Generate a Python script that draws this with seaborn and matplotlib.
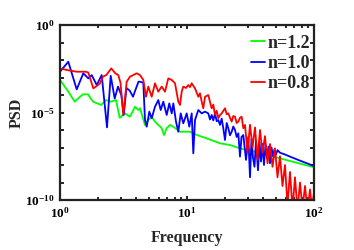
import numpy as np
import pandas as pd
import matplotlib
matplotlib.use("Agg")
import matplotlib.pyplot as plt
from matplotlib.ticker import LogLocator, FuncFormatter, NullFormatter, NullLocator
import seaborn as sns

# ---- data ----
# green: log10 frequency / log10 PSD
green_logf = [0.000, 0.060, 0.116, 0.150, 0.181, 0.220, 0.260, 0.325, 0.362, 0.402, 0.441,
              0.470, 0.512, 0.551, 0.591, 0.617, 0.630, 0.669, 0.695, 0.722, 0.748,
              0.774, 0.801, 0.819, 0.840, 0.866, 0.892, 0.945, 1.024, 1.079, 1.157,
              1.260, 1.339, 1.417, 1.575, 1.732, 1.890, 2.000]
green_logpsd = [-3.14, -3.75, -4.38, -4.15, -3.96, -3.96, -4.38, -4.57, -4.29, -4.38, -4.29,
                -5.30, -5.05, -5.24, -4.67, -4.86, -4.76, -5.71, -5.43, -5.24, -5.52,
                -5.71, -5.90, -6.29, -5.90, -5.71, -5.81, -6.10, -6.10, -6.29, -6.48,
                -6.76, -6.86, -7.05, -7.30, -7.62, -7.92, -8.13]

# blue / red: horizontal position read in pixels of the 354x250 reference (axis 1..100 spans 60..314)
blue_x = [60, 68.3, 76.7, 83.3, 88.3, 91.7, 96.7, 101.7, 107, 110.7, 114.7, 118, 121.3,
          123.7, 126.5, 129.7, 133, 135.5, 138.5, 140, 143.3, 145, 146.7, 149.3, 151.7,
          155, 158.3, 160.7, 163.3, 166.7, 169.3, 171.7, 173.3, 176, 178.3, 180.7, 183.3,
          186.7, 189.3, 191.7, 193.3, 195, 198.3, 201.7, 205, 208.3, 210, 211.7, 213.3,
          215, 216.7, 218.3, 220, 221.7, 223.3, 225, 226.7, 228.3, 230, 231.7, 233.3, 235,
          236.7, 238.3, 240, 241.5, 243.3, 246, 248.3, 250, 251.5, 253, 254.5, 256, 258,
          259.5, 261, 262.5, 264, 265.5, 267, 268.5, 270, 271.5, 273, 274.5, 276, 277.5,
          280, 285, 290, 300, 314]
blue_logpsd = [-2.67, -2.10, -3.68, -2.76, -3.05, -2.86, -3.43, -2.86, -5.85, -2.90, -4.20,
               -3.52, -4.00, -5.14, -3.60, -3.75, -4.10, -3.70, -3.24, -3.24, -3.30, -5.43,
               -5.81, -4.95, -5.33, -4.67, -4.29, -4.86, -4.38, -5.14, -4.48, -5.05, -4.48,
               -5.52, -6.10, -5.05, -5.62, -5.05, -5.81, -5.05, -7.33, -5.43, -4.86, -5.05,
               -4.95, -5.05, -5.40, -5.14, -5.45, -5.05, -5.50, -5.43, -5.71, -5.35, -5.90,
               -6.57, -5.60, -5.90, -6.30, -6.10, -5.80, -6.00, -6.40, -6.19, -7.52, -6.40,
               -6.29, -7.71, -6.40, -8.70, -6.50, -7.60, -8.10, -6.60, -8.30, -6.70, -7.80,
               -6.80, -8.00, -6.85, -7.60, -6.95, -7.90, -7.00, -7.50, -7.10, -7.40, -7.15,
               -7.30, -7.40, -7.52, -7.75, -8.06]

red_x = [60, 66.7, 76.7, 86, 88.3, 93.3, 98, 100, 103, 106.3, 111.3, 115.3, 118.3, 120.5,
         123.3, 126.7, 130, 133.3, 136.7, 140, 143.3, 146, 148.3, 151.7, 155, 158.3, 161.7,
         165, 168.3, 171.7, 175, 178.3, 180, 181.7, 183.3, 186, 188.3, 190, 191.7, 195,
         198.3, 200, 201.7, 203.3, 205, 208.3, 210, 211.7, 213.3, 215, 216.7, 218.3, 220,
         221.7, 225, 226.7, 228.3, 230, 231.7, 233.3, 235, 236.7, 238.3, 240, 241.7, 243.3,
         245, 247.5, 250, 252.5, 255, 257.5, 260, 262.5, 265, 267.5, 270, 272.5, 275,
         277.5, 280, 282.5, 285, 287.5, 290, 292.5, 295, 297.5, 300, 302.5, 305, 307.5,
         310, 312, 314]
red_logpsd = [-2.48, -2.57, -2.67, -2.67, -2.72, -3.62, -3.43, -3.33, -2.95, -2.86, -2.48,
              -2.76, -2.86, -3.30, -5.14, -3.24, -2.95, -2.86, -2.76, -2.86, -3.14, -4.10,
              -3.52, -4.10, -3.33, -3.81, -3.52, -3.81, -3.05, -3.14, -3.33, -4.38, -4.57,
              -3.81, -3.52, -3.60, -3.43, -3.55, -3.33, -3.62, -4.10, -3.90, -4.38, -4.76,
              -4.10, -4.00, -4.40, -4.76, -4.55, -5.14, -4.90, -5.33, -5.15, -5.05, -4.76,
              -5.10, -5.05, -5.30, -5.52, -5.20, -5.24, -5.60, -5.52, -5.30, -5.24, -5.90,
              -5.71, -7.30, -5.70, -7.00, -5.85, -7.70, -6.00, -7.30, -6.35, -7.90, -6.80,
              -8.10, -7.05, -8.70, -7.50, -9.20, -8.00, -10.3, -8.40, -10.5, -8.70, -10.6,
              -9.00, -10.5, -9.20, -10.6, -9.40, -10.5, -9.55]

labels = ["n=1.2", "n=1.0", "n=0.8"]
colors = ["#00ff00", "#0000ff", "#ff0000"]

# convert pixel positions to log10 frequency (1 decade = 127 px, f=1 at 60 px)
blue_logf = [(x - 60) / 127 for x in blue_x]
red_logf = [(x - 60) / 127 for x in red_x]

frames = []
for lab, lf, lp in zip(labels, [green_logf, blue_logf, red_logf],
                       [green_logpsd, blue_logpsd, red_logpsd]):
    frames.append(pd.DataFrame({"f": 10 ** np.array(lf), "psd": 10 ** np.array(lp),
                                "series": lab}))
df = pd.concat(frames, ignore_index=True)

sns.set_style("ticks")
plt.rcParams["font.family"] = ["Liberation Serif", "DejaVu Serif"]
plt.rcParams["font.weight"] = "bold"
plt.rcParams["mathtext.fontset"] = "custom"
plt.rcParams["mathtext.rm"] = "Liberation Serif:bold"
plt.rcParams["mathtext.bf"] = "Liberation Serif:bold"
plt.rcParams["mathtext.it"] = "Liberation Serif:bold"

fig = plt.figure(figsize=(3.54, 2.5), dpi=100)
ax = fig.add_axes([60 / 354, 50 / 250, 254 / 354, 175 / 250])

sns.lineplot(data=df, x="f", y="psd", hue="series", hue_order=labels, palette=colors,
             sort=False, estimator=None, units="series", lw=1.3, ax=ax, legend=False)

ax.set_xscale("log")
ax.set_yscale("log")
ax.set_xlim(1, 100)
ax.set_ylim(1e-10, 1)

ax.xaxis.set_major_locator(LogLocator(base=10, numticks=5))
ax.xaxis.set_minor_locator(LogLocator(base=10, subs=np.arange(2, 10), numticks=20))
ax.xaxis.set_minor_formatter(NullFormatter())
ax.yaxis.set_major_locator(LogLocator(base=10, numticks=20))
ax.yaxis.set_minor_locator(NullLocator())

def fmt(v, pos):
    e = int(round(np.log10(v)))
    return r"$10^{%d}$" % e

def yfmt(v, pos):
    e = int(round(np.log10(v)))
    return (r"$10^{%d}$" % e) if e % 5 == 0 else ""

ax.xaxis.set_major_formatter(FuncFormatter(fmt))
ax.yaxis.set_major_formatter(FuncFormatter(yfmt))

ax.tick_params(which="both", direction="in", top=True, right=True, width=1.2,
               labelsize=9.5, colors="black")
ax.tick_params(which="major", length=3, pad=4)
ax.tick_params(which="minor", length=2.5)
for s in ax.spines.values():
    s.set_linewidth(1.6)
    s.set_color("#222222")

ax.set_xlabel("Frequency", fontsize=11.5, fontweight="bold")
ax.set_ylabel("PSD", fontsize=11.5, fontweight="bold")
ax.xaxis.set_label_coords(0.5, -0.17)
ax.yaxis.set_label_coords(-0.14, 0.5)

handles = [plt.Line2D([], [], color=c, lw=1.3) for c in colors]
leg = ax.legend(handles, labels, loc="upper right", bbox_to_anchor=(1.0, 0.965),
                frameon=False, fontsize=13, handlelength=0.8, handletextpad=0.15,
                labelspacing=0.18, borderaxespad=0.1, borderpad=0.1)
for t in leg.get_texts():
    t.set_fontweight("bold")

fig.savefig("out.png", dpi=100)
